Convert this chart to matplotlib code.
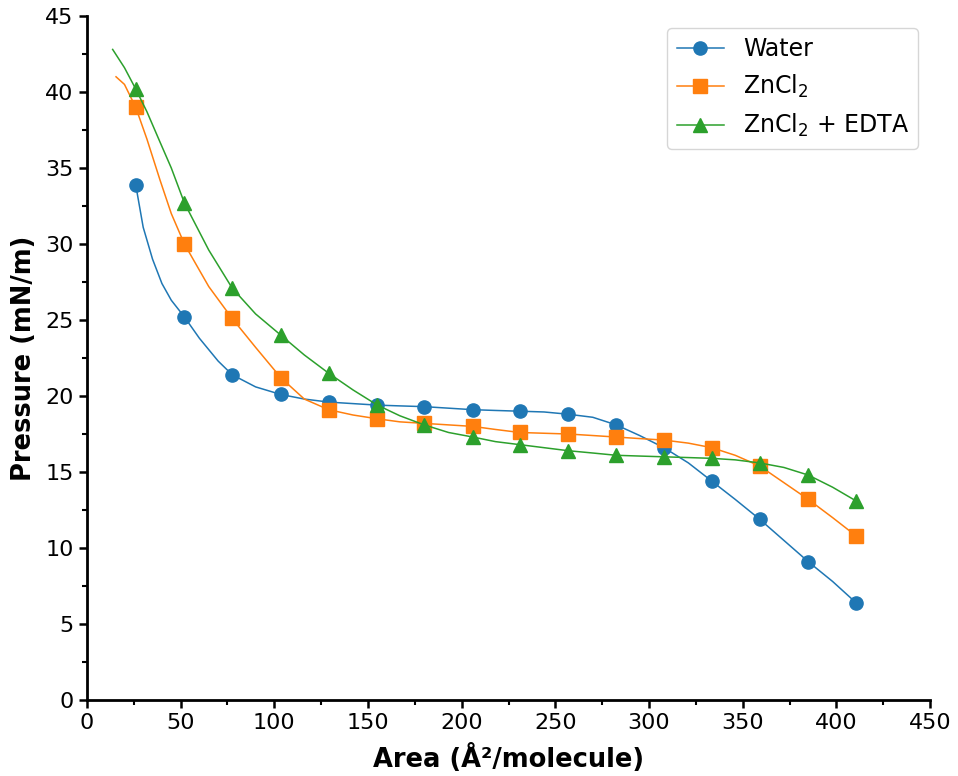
import matplotlib
matplotlib.use('Agg')
import matplotlib.pyplot as plt
from matplotlib.ticker import MultipleLocator

# marker positions (measured points)
area_pts = [26, 52, 77.5, 103.5, 129, 155, 180, 206, 231, 257, 282.5, 308, 333.5, 359, 385, 410.5]
water_pts = [33.9, 25.2, 21.4, 20.1, 19.6, 19.4, 19.3, 19.1, 19.0, 18.8, 18.1, 16.6, 14.4, 11.9, 9.1, 6.4]
zncl_pts = [39.0, 30.0, 25.1, 21.2, 19.1, 18.5, 18.2, 18.0, 17.6, 17.5, 17.3, 17.1, 16.6, 15.4, 13.2, 10.8]
edta_pts = [40.2, 32.7, 27.1, 24.0, 21.5, 19.4, 18.1, 17.3, 16.8, 16.4, 16.1, 16.0, 15.9, 15.6, 14.8, 13.1]

# continuous isotherm traces
water_x = [26, 30, 35, 40, 45, 52, 60, 70, 77.5, 90, 103.5, 116, 129, 142, 155, 167, 180, 193, 206,
           218, 231, 244, 257, 270, 282.5, 295, 308, 321, 333.5, 346, 359, 372, 385, 398, 410.5]
water_y = [33.9, 31.1, 29.0, 27.4, 26.3, 25.2, 23.8, 22.3, 21.4, 20.6, 20.1, 19.8, 19.6, 19.5, 19.4, 19.35, 19.3, 19.2, 19.1,
           19.05, 19.0, 18.95, 18.8, 18.6, 18.1, 17.4, 16.6, 15.6, 14.4, 13.2, 11.9, 10.5, 9.1, 7.8, 6.4]

zncl_x = [15.5, 20, 26, 32, 39, 45, 52, 65, 77.5, 90, 103.5, 116, 129, 142, 155, 167, 180, 193, 206,
          218, 231, 244, 257, 270, 282.5, 295, 308, 321, 333.5, 346, 359, 372, 385, 398, 410.5]
zncl_y = [41.0, 40.5, 39.0, 36.9, 34.2, 32.0, 30.0, 27.2, 25.1, 23.2, 21.2, 19.8, 19.1, 18.75, 18.5, 18.3, 18.2, 18.1, 18.0,
          17.8, 17.6, 17.55, 17.5, 17.4, 17.3, 17.2, 17.1, 16.9, 16.6, 16.1, 15.4, 14.3, 13.2, 12.0, 10.8]

edta_x = [13.7, 20, 26, 32, 39, 45, 52, 65, 77.5, 90, 103.5, 116, 129, 142, 155, 167, 180, 193, 206,
          218, 231, 244, 257, 270, 282.5, 295, 308, 321, 333.5, 346, 359, 372, 385, 398, 410.5]
edta_y = [42.8, 41.6, 40.2, 38.7, 36.7, 35.0, 32.7, 29.6, 27.1, 25.4, 24.0, 22.7, 21.5, 20.4, 19.4, 18.7, 18.1, 17.6, 17.3,
          17.0, 16.8, 16.6, 16.4, 16.25, 16.1, 16.05, 16.0, 15.95, 15.9, 15.8, 15.6, 15.3, 14.8, 14.0, 13.1]

series = [
    (water_x, water_y, water_pts, 'o', 'C0', 'Water'),
    (zncl_x, zncl_y, zncl_pts, 's', 'C1', 'ZnCl$_2$'),
    (edta_x, edta_y, edta_pts, '^', 'C2', 'ZnCl$_2$ + EDTA'),
]

fig = plt.figure(figsize=(9.58, 7.76), dpi=100)
ax = fig.add_axes([0.0908, 0.0979, 0.88, 0.8815])

for lx, ly, py, mk, col, lab in series:
    ax.plot(lx, ly, '-', color=col, lw=1.1)
    ax.plot(area_pts, py, mk, color=col, ms=9.5, ls='none')
    # proxy for legend: line + marker
    ax.plot([], [], '-', marker=mk, color=col, lw=1.1, ms=9.5, label=lab)

ax.set_xlim(0, 450)
ax.set_ylim(0, 45)
ax.xaxis.set_major_locator(MultipleLocator(50))
ax.xaxis.set_minor_locator(MultipleLocator(25))
ax.yaxis.set_major_locator(MultipleLocator(5))
ax.yaxis.set_minor_locator(MultipleLocator(2.5))

for s in ['top', 'right']:
    ax.spines[s].set_visible(False)
for s in ['left', 'bottom']:
    ax.spines[s].set_linewidth(2)

ax.tick_params(which='major', labelsize=16, length=6, width=1.8)
ax.tick_params(which='minor', length=3.5, width=1.5)

ax.set_xlabel('Area (Å²/molecule)', fontsize=18.5, fontweight='bold', labelpad=8)
ax.set_ylabel('Pressure (mN/m)', fontsize=18.5, fontweight='bold', labelpad=6)

ax.legend(loc='upper right', fontsize=17, borderaxespad=0.5)

fig.savefig('out.png', dpi=100)
